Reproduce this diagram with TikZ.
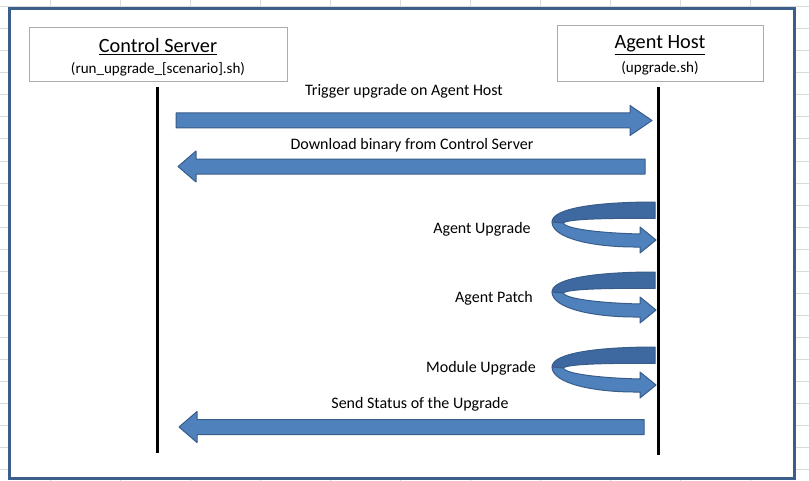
\documentclass[tikz,border=0pt]{standalone}
\usepackage{fontspec}
\setmainfont{Carlito}
\definecolor{gridc}{HTML}{DADADA}
\definecolor{framec}{HTML}{3C5E8A}
\definecolor{boxc}{HTML}{ABABAB}
\definecolor{arrfill}{HTML}{4F81BD}
\definecolor{arrline}{HTML}{385D8A}
\definecolor{backfill}{HTML}{3E68A0}
\newcommand\rblock[3]{%
  \filldraw[blockarrow] (#1,#3-7.5) -- (#2-22,#3-7.5) -- (#2-22,#3-15) -- (#2,#3)
    -- (#2-22,#3+15) -- (#2-22,#3+7.5) -- (#1,#3+7.5) -- cycle;}
\newcommand\lblock[3]{%
  \filldraw[blockarrow] (#1,#3) -- (#1+18,#3-15.5) -- (#1+18,#3-7.5) -- (#2,#3-7.5)
    -- (#2,#3+7.5) -- (#1+18,#3+7.5) -- (#1+18,#3+15.5) -- cycle;}
\newcommand\selfloop[1]{%
  \begin{scope}[shift={(0,#1)}]
  \filldraw[backband] (655,202) .. controls (598,202) and (552,208) .. (552,222)
    -- (563,223) .. controls (568,219) and (605,218) .. (655,218.5) -- cycle;
  \filldraw[blockarrow] (552,222) .. controls (552,238) and (592,247.5) .. (640,247)
    -- (640,253) -- (656,240) -- (640,227) -- (640,234)
    .. controls (600,233) and (566,229) .. (563,223) -- cycle;
  \end{scope}}
\begin{document}
\begin{tikzpicture}[x=0.75pt,y=-0.75pt,
  gridline/.style={draw=gridc,line width=0.75pt},
  frame/.style={draw=framec,line width=2.25pt,fill=white},
  actorbox/.style={draw=boxc,line width=0.75pt,fill=white},
  lifeline/.style={draw=black,line width=2.25pt},
  blockarrow/.style={fill=arrfill,draw=arrline,line width=0.75pt,line join=round},
  backband/.style={fill=backfill,draw=arrline,line width=0.75pt,line join=round},
  msg/.style={inner sep=0pt,font=\fontsize{12}{14}\selectfont,text=black},
  title/.style={inner sep=0pt,font=\fontsize{15.2}{17}\selectfont},
  sub/.style={inner sep=0pt,font=\fontsize{11.3}{13}\selectfont}]
\useasboundingbox (0,0) rectangle (809,481);
\fill[white] (0,0) rectangle (809,481);
% spreadsheet gridlines
\foreach \gx in {50,120,...,750} \draw[gridline] (\gx,0) -- (\gx,481);
\foreach \gy in {7,29,...,469} \draw[gridline] (0,\gy) -- (809,\gy);
% frame
\draw[frame] (9,8.5) rectangle (794.5,478);
% actor boxes
\draw[actorbox] (29,28) rectangle (287,82);
\draw[actorbox] (557,26) rectangle (763,82);
\node[title] (cs) at (158,47) {\underline{Control Server}};
\node[sub] (css) at (158,69) {(run\_upgrade\_[scenario].sh)};
\node[title] (ah) at (660,45) {\underline{Agent Host}};
\node[sub] (ahs) at (660,68.5) {(upgrade.sh)};
% messages
\rblock{176}{652}{120.5}
\lblock{178}{645}{166.5}
\selfloop{0}
\selfloop{70}
\selfloop{145}
\lblock{179}{644}{427}
\node[msg] (m1) at (404,91) {Trigger upgrade on Agent Host};
\node[msg] (m2) at (412,145) {Download binary from Control Server};
\node[msg] (m3) at (482,229) {Agent Upgrade};
\node[msg] (m4) at (494,298) {Agent Patch};
\node[msg] (m5) at (481,368) {Module Upgrade};
\node[msg] (m6) at (420,404) {Send Status of the Upgrade};
% lifelines
\coordinate (lt) at (157,87);
\coordinate (lb) at (157,453);
\coordinate (rt) at (658,87);
\coordinate (rb) at (658,455);
\draw[lifeline] (lt) -- (lb);
\draw[lifeline] (rt) -- (rb);
\end{tikzpicture}
\end{document}
